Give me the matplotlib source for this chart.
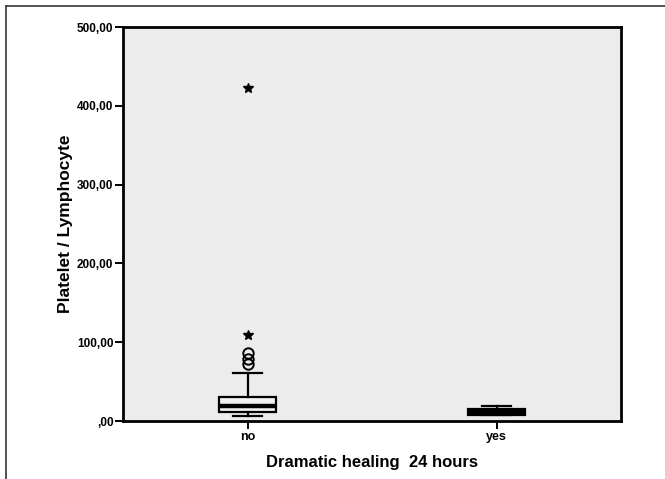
import matplotlib
matplotlib.use("Agg")
import matplotlib.pyplot as plt
from matplotlib.lines import Line2D

plt.rcParams['font.family'] = ['Liberation Sans', 'DejaVu Sans']

categories = ["no", "yes"]
whislo = [6.3, 7.0]
q1 = [11.4, 7.6]
med = [19.5, 11.0]
q3 = [30.5, 15.0]
whishi = [61.0, 19.0]
circle_outliers_no = [86.0, 79.0, 72.0]
star_outliers_no = [109.0, 423.0]
yticks = [0, 100, 200, 300, 400, 500]
ytick_labels = [",00", "100,00", "200,00", "300,00", "400,00", "500,00"]

fig = plt.figure(figsize=(6.65, 4.79), dpi=100)
fig.patch.set_facecolor("white")

# outer frame (left and top edges)
fig.add_artist(Line2D([6/665, 6/665], [0, 1 - 6/479], transform=fig.transFigure, color="#444444", lw=1.3))
fig.add_artist(Line2D([6/665, 1], [1 - 6/479, 1 - 6/479], transform=fig.transFigure, color="#444444", lw=1.3))

ax = fig.add_axes([123/665, 58/479, 498/665, 394/479])
ax.set_facecolor("#ececec")

stats = []
for i, c in enumerate(categories):
    stats.append(dict(label=c, whislo=whislo[i], q1=q1[i], med=med[i], q3=q3[i], whishi=whishi[i], fliers=[]))

positions = [1, 2]
bp = ax.bxp(stats, positions=positions, widths=0.225, capwidths=0.12, showfliers=False,
            patch_artist=True,
            boxprops=dict(edgecolor="black", linewidth=1.6),
            whiskerprops=dict(color="black", linewidth=1.6),
            capprops=dict(color="black", linewidth=1.6),
            medianprops=dict(color="black", linewidth=3.2))
bp['boxes'][0].set_facecolor("#f2f2f2")
bp['boxes'][1].set_facecolor("black")

ax.plot([positions[0]] * len(circle_outliers_no), circle_outliers_no, linestyle="none",
        marker="o", markersize=7.5, markerfacecolor="none", markeredgecolor="black", markeredgewidth=1.4)
ax.plot([positions[0]] * len(star_outliers_no), star_outliers_no, linestyle="none",
        marker="*", markersize=7.5, color="black")

ax.set_xlim(0.5, 2.5)
ax.set_ylim(0, 500)
ax.set_xticks(positions)
ax.set_xticklabels(categories, fontsize=9, fontweight="bold")
ax.set_yticks(yticks)
ax.set_yticklabels(ytick_labels, fontsize=8.5, fontweight="bold")
ax.tick_params(axis="both", direction="out", length=6, width=1.4, color="black", pad=1)

for s in ax.spines.values():
    s.set_linewidth(2.0)
    s.set_color("black")

ax.set_xlabel("Dramatic healing  24 hours", fontsize=12, fontweight="bold", labelpad=9)
ax.set_ylabel("Platelet / Lymphocyte", fontsize=12.5, fontweight="bold", labelpad=3)

fig.savefig("out.png", dpi=100)
